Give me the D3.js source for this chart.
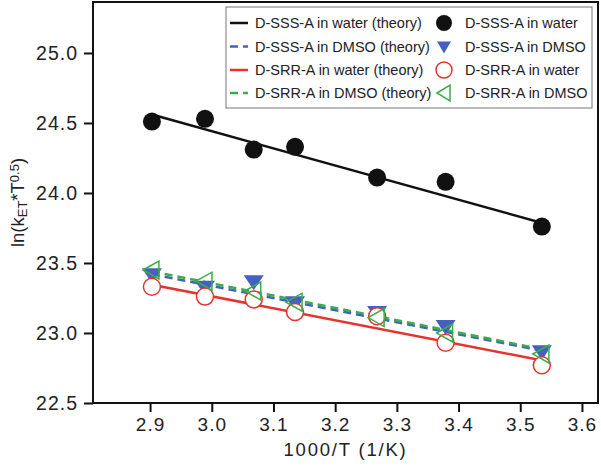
<!DOCTYPE html>
<html>
<head>
<meta charset="utf-8">
<script src="https://cdn.jsdelivr.net/npm/d3@7"></script>
<style>
  html, body { margin: 0; padding: 0; background: #fff; }
  text { font-family: "Liberation Sans", Arial, Helvetica, sans-serif; fill: #222; }
</style>
</head>
<body>
<svg id="chart" width="601" height="473"></svg>
<script>
// ---------------- data ----------------
const invT = [2.903, 2.989, 3.068, 3.135, 3.268, 3.379, 3.535];
const sssWater = [24.51, 24.53, 24.31, 24.33, 24.11, 24.08, 23.76];
const sssDmso  = [23.42, 23.33, 23.37, 23.22, 23.15, 23.05, 22.87];
const srrWater = [23.33, 23.26, 23.24, 23.15, 23.12, 22.93, 22.77];
const srrDmso  = [23.45, 23.37, 23.30, 23.22, 23.11, 23.00, 22.85];

const theoryX = [2.903, 3.540];
const sssWaterTheory = [24.56, 23.78];
const sssDmsoTheory  = [23.42, 22.87];
const srrWaterTheory = [23.345, 22.80];
const srrDmsoTheory  = [23.44, 22.88];

const xTicks = [2.9, 3.0, 3.1, 3.2, 3.3, 3.4, 3.5, 3.6];
const yTicks = [22.5, 23.0, 23.5, 24.0, 24.5, 25.0];

const theoryLabels = ["D-SSS-A in water (theory)", "D-SSS-A in DMSO (theory)", "D-SRR-A in water (theory)", "D-SRR-A in DMSO (theory)"];
const dataLabels = ["D-SSS-A in water", "D-SSS-A in DMSO", "D-SRR-A in water", "D-SRR-A in DMSO"];

// ---------------- layout ----------------
const svg = d3.select("#chart");
const L = 93, R = 598, T = 2, B = 403;
const x = d3.scaleLinear().domain([2.8075, 3.626]).range([L, R]);
const y = d3.scaleLinear().domain([22.5, 25.364]).range([B, T]);

const colBlack = "#111111", colBlue = "#4462bd", colRed = "#e3342f", colGreen = "#38ae4a";

// axes
const xAxis = svg.append("g").attr("transform", `translate(0,${B})`)
  .call(d3.axisBottom(x).tickValues(xTicks).tickFormat(d3.format(".1f")).tickSize(9).tickPadding(6));
const yAxis = svg.append("g").attr("transform", `translate(${L},0)`)
  .call(d3.axisLeft(y).tickValues(yTicks).tickFormat(d3.format(".1f")).tickSize(9).tickPadding(6));
[xAxis, yAxis].forEach(g => {
  g.select(".domain").remove();
  g.selectAll(".tick line").attr("stroke", "#111").attr("stroke-width", 2);
  g.selectAll(".tick text").style("font-size", "19px").style("letter-spacing", "1px").attr("fill", "#222");
});
yAxis.selectAll(".tick text").style("font-size", "19.5px");

// frame
svg.append("rect").attr("x", L).attr("y", T).attr("width", R - L).attr("height", B - T)
  .attr("fill", "none").attr("stroke", "#111").attr("stroke-width", 2);

// axis titles
svg.append("text").attr("x", (L + R) / 2).attr("y", 456).attr("text-anchor", "middle")
  .style("font-size", "18.5px").style("letter-spacing", "1.8px").text("1000/T (1/K)");
const yl = svg.append("text").attr("transform", `translate(24,${(T + B) / 2}) rotate(-90)`)
  .attr("text-anchor", "middle").style("font-size", "18.5px");
yl.append("tspan").text("ln(k");
yl.append("tspan").attr("baseline-shift", "-25%").style("font-size", "13px").text("ET");
yl.append("tspan").attr("baseline-shift", "0%").text("*T");
yl.append("tspan").attr("baseline-shift", "35%").style("font-size", "13px").text("0.5");
yl.append("tspan").text(")");

// theory lines
const lineGen = d3.line().x(d => x(d[0])).y(d => y(d[1]));
const theories = [
  {v: sssWaterTheory, c: colBlack, dash: null},
  {v: srrWaterTheory, c: colRed, dash: null},
  {v: sssDmsoTheory, c: colBlue, dash: "8,5"},
  {v: srrDmsoTheory, c: colGreen, dash: "8,5"}
];
theories.forEach(t => {
  svg.append("path").datum(theoryX.map((xx, i) => [xx, t.v[i]]))
    .attr("d", lineGen).attr("fill", "none").attr("stroke", t.c)
    .attr("stroke-width", 2.5).attr("stroke-dasharray", t.dash);
});

// markers
const pts = arr => invT.map((xx, i) => [x(xx), y(arr[i])]);
const downTri = (cx, cy) => `M${cx - 10},${cy - 6}L${cx + 10},${cy - 6}L${cx},${cy + 9}Z`;
const leftTri = (cx, cy) => `M${cx - 9},${cy}L${cx + 7},${cy - 9}L${cx + 7},${cy + 9}Z`;

svg.append("g").selectAll("circle").data(pts(sssWater)).join("circle")
  .attr("cx", d => d[0]).attr("cy", d => d[1]).attr("r", 9).attr("fill", colBlack);
svg.append("g").selectAll("path").data(pts(sssDmso)).join("path")
  .attr("d", d => downTri(d[0], d[1])).attr("fill", colBlue);
svg.append("g").selectAll("circle").data(pts(srrWater)).join("circle")
  .attr("cx", d => d[0]).attr("cy", d => d[1]).attr("r", 8.5).attr("fill", "#fff")
  .attr("stroke", colRed).attr("stroke-width", 1.5);
svg.append("g").selectAll("path").data(pts(srrDmso)).join("path")
  .attr("d", d => leftTri(d[0], d[1])).attr("fill", "none")
  .attr("stroke", colGreen).attr("stroke-width", 1.5);

// legend
const lg = svg.append("g");
lg.append("rect").attr("x", 226).attr("y", 7).attr("width", 366).attr("height", 101)
  .attr("fill", "#fff").attr("stroke", "#777").attr("stroke-width", 1);
const rowY = [23, 46.5, 70, 93];
const theoryStyles = [
  {c: colBlack, dash: null}, {c: colBlue, dash: "8,5"}, {c: colRed, dash: null}, {c: colGreen, dash: "8,5"}
];
theoryLabels.forEach((lab, i) => {
  lg.append("line").attr("x1", 230).attr("x2", 248).attr("y1", rowY[i]).attr("y2", rowY[i])
    .attr("stroke", theoryStyles[i].c).attr("stroke-width", 2.5).attr("stroke-dasharray", theoryStyles[i].dash);
  lg.append("text").attr("x", 255).attr("y", rowY[i] + 5).style("font-size", "14.5px").text(lab);
});
const mx = 444;
lg.append("circle").attr("cx", mx).attr("cy", rowY[0]).attr("r", 8).attr("fill", colBlack);
lg.append("path").attr("d", `M${mx - 7},${rowY[1] - 5}L${mx + 7},${rowY[1] - 5}L${mx},${rowY[1] + 7}Z`).attr("fill", colBlue);
lg.append("circle").attr("cx", mx).attr("cy", rowY[2]).attr("r", 8).attr("fill", "#fff")
  .attr("stroke", colRed).attr("stroke-width", 1.5);
lg.append("path").attr("d", `M${mx - 7},${rowY[3]}L${mx + 6},${rowY[3] - 8}L${mx + 6},${rowY[3] + 8}Z`)
  .attr("fill", "none").attr("stroke", colGreen).attr("stroke-width", 1.5);
dataLabels.forEach((lab, i) => {
  lg.append("text").attr("x", 465).attr("y", rowY[i] + 5).style("font-size", "14.5px").text(lab);
});
</script>
</body>
</html>
